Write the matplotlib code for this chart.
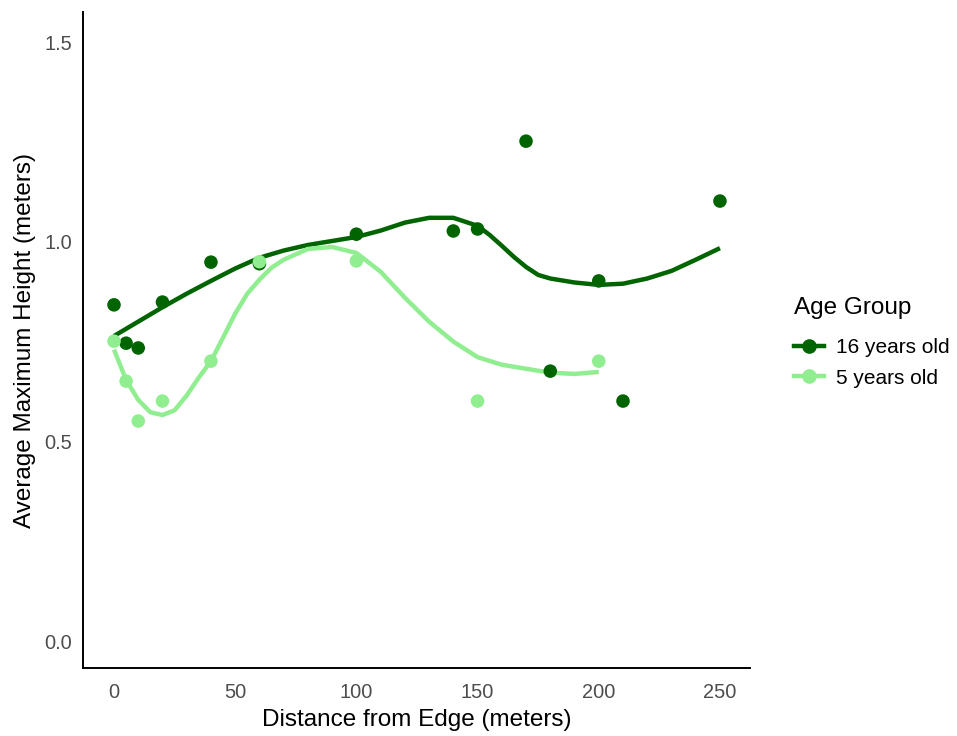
import matplotlib
matplotlib.use("Agg")
import matplotlib.pyplot as plt
from matplotlib.lines import Line2D

plt.rcParams['font.family'] = ['Liberation Sans', 'DejaVu Sans']

# ---- data ----
groups = ["16 years old", "5 years old"]
colors = {"16 years old": "#006400", "5 years old": "#90EE90"}

x_16 = [0, 5, 10, 20, 40, 60, 100, 140, 150, 170, 180, 200, 210, 250]
y_16 = [0.842, 0.746, 0.734, 0.849, 0.949, 0.945, 1.019, 1.027, 1.032, 1.252, 0.676, 0.902, 0.601, 1.102]

x_5 = [0, 5, 10, 20, 40, 60, 100, 150, 200]
y_5 = [0.751, 0.651, 0.551, 0.601, 0.701, 0.950, 0.952, 0.601, 0.701]

# smoothed trend values
smooth_x_16 = [0, 10, 20, 30, 40, 50, 60, 70, 80, 90, 100, 110, 120, 130, 140, 150, 155, 160,
               165, 170, 175, 180, 190, 200, 210, 220, 230, 240, 250]
smooth_y_16 = [0.764, 0.800, 0.836, 0.870, 0.902, 0.933, 0.960, 0.978, 0.992, 1.002, 1.012, 1.028,
               1.048, 1.060, 1.060, 1.040, 1.017, 0.990, 0.962, 0.937, 0.917, 0.908, 0.898, 0.892,
               0.895, 0.908, 0.927, 0.955, 0.984]

smooth_x_5 = [0, 5, 10, 15, 20, 25, 30, 35, 40, 45, 50, 55, 60, 65, 70, 80, 90, 100, 110, 120,
              130, 140, 150, 160, 170, 180, 190, 200]
smooth_y_5 = [0.730, 0.654, 0.604, 0.573, 0.566, 0.578, 0.615, 0.660, 0.701, 0.760, 0.820, 0.870,
              0.905, 0.935, 0.955, 0.982, 0.987, 0.972, 0.925, 0.860, 0.800, 0.750, 0.711, 0.692,
              0.682, 0.672, 0.669, 0.674]

x_ticks = [0, 50, 100, 150, 200, 250]
y_ticks = [0.0, 0.5, 1.0, 1.5]
y_tick_labels = ["0.0", "0.5", "1.0", "1.5"]

# ---- figure ----
fig = plt.figure(figsize=(9.57, 7.36), dpi=100)
ax = fig.add_axes([0.0867, 0.0924, 0.697, 0.891])

lw = 3.2
ms = 95
ax.plot(smooth_x_16, smooth_y_16, color=colors["16 years old"], lw=lw, solid_capstyle='butt', zorder=2)
ax.plot(smooth_x_5, smooth_y_5, color=colors["5 years old"], lw=lw, solid_capstyle='butt', zorder=2)
ax.scatter(x_16, y_16, s=ms, color=colors["16 years old"], edgecolors='none', zorder=3)
ax.scatter(x_5, y_5, s=ms, color=colors["5 years old"], edgecolors='none', zorder=3)

ax.set_xlim(-12.8, 262.4)
ax.set_ylim(-0.0676, 1.575)
ax.set_xticks(x_ticks)
ax.set_yticks(y_ticks)
ax.set_yticklabels(y_tick_labels)
ax.tick_params(length=0, labelsize=14.4, labelcolor='#4d4d4d')
ax.tick_params(axis='y', pad=8)
ax.tick_params(axis='x', pad=11)
for s in ['top', 'right']:
    ax.spines[s].set_visible(False)
for s in ['left', 'bottom']:
    ax.spines[s].set_linewidth(1.4)
    ax.spines[s].set_color('black')

ax.set_xlabel("Distance from Edge (meters)", fontsize=17.5, labelpad=5)
ax.set_ylabel("Average Maximum Height (meters)", fontsize=17.5, labelpad=6)

handles = [Line2D([0], [0], color=colors[g], lw=lw, marker='o', markersize=9.5) for g in groups]
leg = fig.legend(handles, groups, title="Age Group", loc='center left',
                 bbox_to_anchor=(0.8096, 0.535), frameon=False, fontsize=15,
                 title_fontsize=17.5, handlelength=1.45, handletextpad=0.6, labelspacing=0.55)
leg._legend_box.align = "left"
leg._legend_box.sep = 14

fig.savefig("out.png", dpi=100, facecolor='white')
